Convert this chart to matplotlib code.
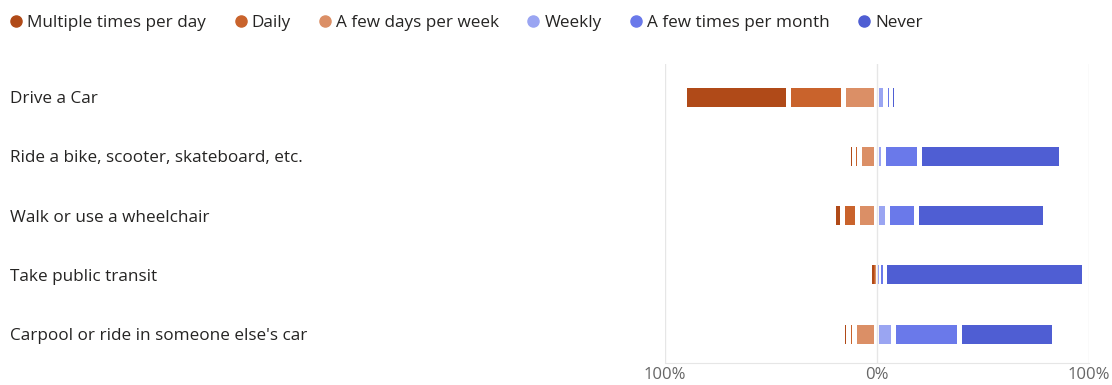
import matplotlib
matplotlib.use("Agg")
import matplotlib.pyplot as plt
from matplotlib.lines import Line2D
from matplotlib.transforms import blended_transform_factory
import numpy as np

# data (percent of respondents)
activities = ["Drive a Car",
              "Ride a bike, scooter, skateboard, etc.",
              "Walk or use a wheelchair",
              "Take public transit",
              "Carpool or ride in someone else's car"]
multiple_per_day = [49.5, 2.0, 4.0, 0.5, 2.5]
daily            = [26.0, 3.0, 7.3, 0.5, 3.0]
few_days_week    = [15.5, 8.0, 9.0, 1.0, 10.5]
weekly           = [4.0, 3.0, 5.1, 1.5, 8.0]
few_times_month  = [3.0, 17.0, 13.8, 2.0, 31.0]
never            = [2.0, 67.0, 60.8, 94.5, 45.0]

legend_labels = ["Multiple times per day", "Daily", "A few days per week",
                 "Weekly", "A few times per month", "Never"]
colors = ["#B04A18", "#C9632C", "#DB8F66", "#9AA5F2", "#6A79EA", "#4F5ED3"]

plt.rcParams["font.family"] = ["Open Sans", "DejaVu Sans"]

fig = plt.figure(figsize=(11.12, 3.85), dpi=100)
ax = fig.add_axes([0.598, 0.057, 0.381, 0.777])

y = np.arange(len(activities))
gap = 2.36      # white gap between segments, in % units
min_w = 0.6
bar_h = 0.32

left_series = [few_days_week, daily, multiple_per_day]      # from 0 outward
right_series = [weekly, few_times_month, never]
left_cols = [colors[2], colors[1], colors[0]]
right_cols = [colors[3], colors[4], colors[5]]

for i in range(len(activities)):
    pos = 0.0
    for s, c in zip(left_series, left_cols):
        v = s[i]
        w = max(v - gap, min_w)
        mid = pos - v / 2
        ax.barh(y[i], -w, left=mid + w / 2, height=bar_h, color=c, linewidth=0)
        pos -= v
    pos = 0.0
    for s, c in zip(right_series, right_cols):
        v = s[i]
        w = max(v - gap, min_w)
        mid = pos + v / 2
        ax.barh(y[i], w, left=mid - w / 2, height=bar_h, color=c, linewidth=0)
        pos += v

ax.set_xlim(-100, 100)
ax.set_ylim(4.49, -0.56)
ax.set_xticks([-100, 0, 100])
ax.set_xticklabels(["100%", "0%", "100%"], color="#666666", fontsize=12)
ax.set_yticks(y)
ax.set_yticklabels([])
ax.tick_params(length=0, pad=2.5)
ax.grid(axis="x", color="#e6e6e6", linewidth=1)
ax.set_axisbelow(True)
for side in ["top", "left", "right"]:
    ax.spines[side].set_visible(False)
ax.spines["bottom"].set_color("#e6e6e6")

# category labels left-aligned at the figure edge
trans = blended_transform_factory(fig.transFigure, ax.transData)
for i, lab in enumerate(activities):
    ax.text(10 / 1112, y[i], lab, transform=trans,
            ha="left", va="center_baseline", fontsize=12.3, color="#252423")

handles = [Line2D([], [], marker="o", linestyle="", markersize=8, color=c) for c in colors]
fig.legend(handles, legend_labels, loc="upper left", bbox_to_anchor=(-0.006, 1.0), ncol=6,
           frameon=False, fontsize=12.3, handletextpad=0.15, columnspacing=1.5,
           handlelength=1.0, borderaxespad=0.45, labelcolor="#252423")

fig.savefig("out.png", dpi=100)
